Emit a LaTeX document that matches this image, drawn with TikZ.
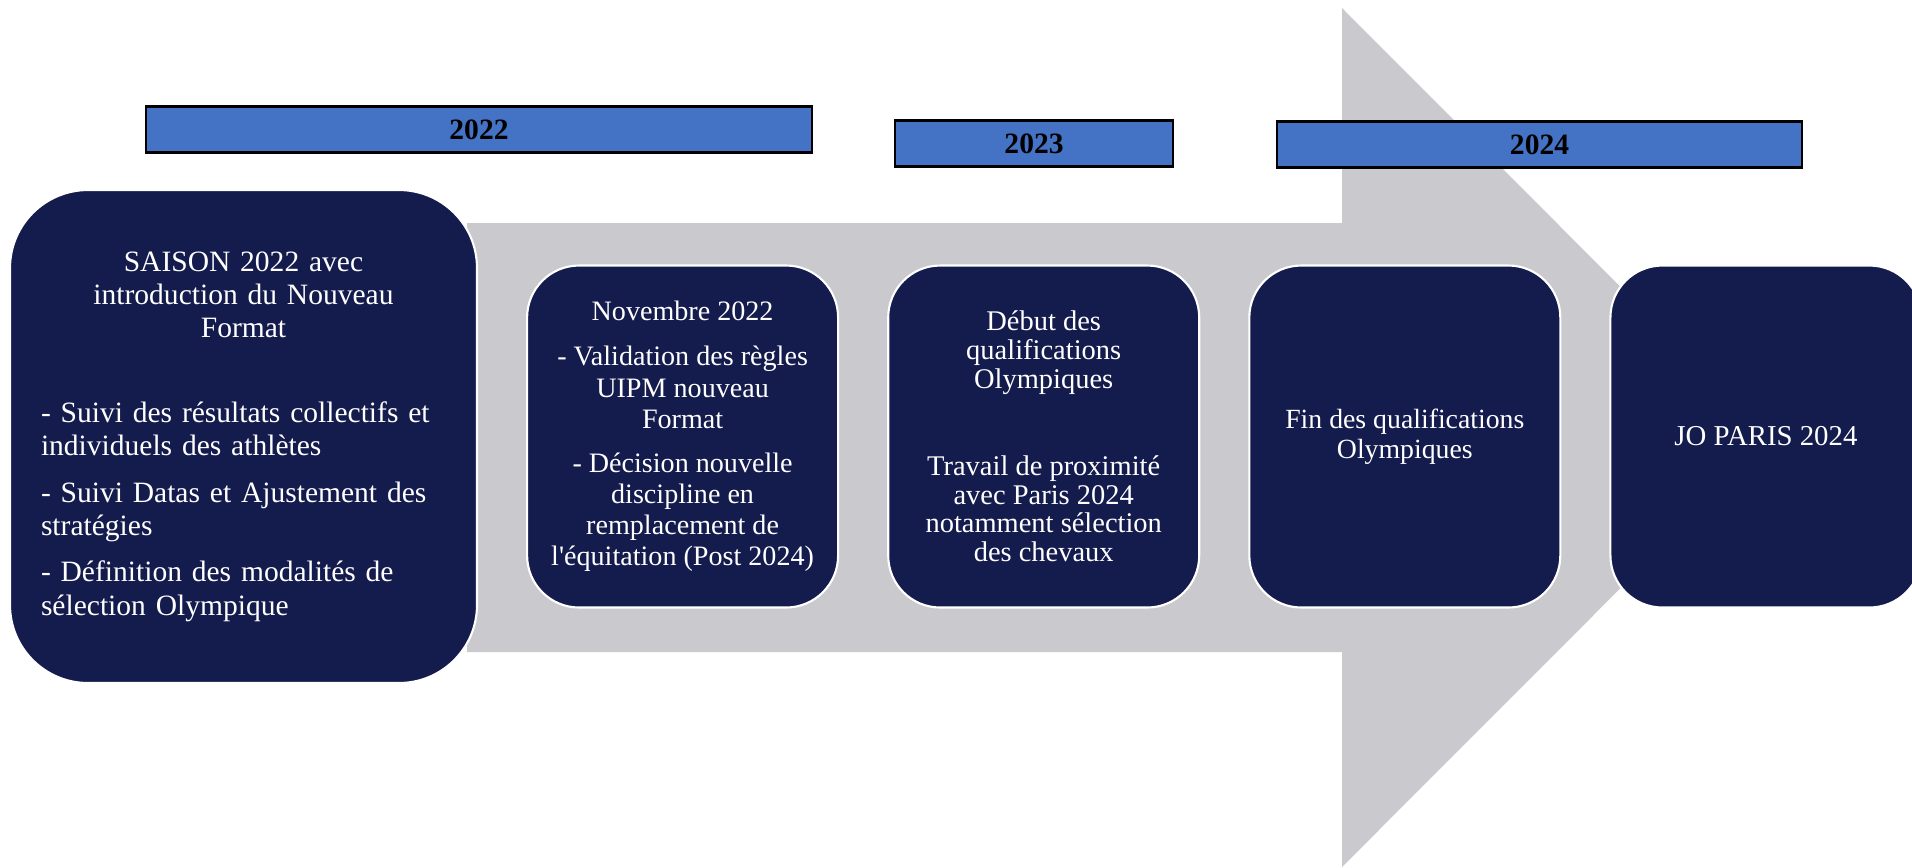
\documentclass[tikz,border=0pt]{standalone}
\usepackage{fontspec}
\setmainfont{Liberation Serif}
\usetikzlibrary{positioning}
\definecolor{navy}{RGB}{20,27,77}
\definecolor{yearblue}{RGB}{68,114,196}
\definecolor{arrowgray}{RGB}{201,201,206}
\setlength{\parindent}{0pt}

\begin{document}
\begin{tikzpicture}[
  x=0.1mm, y=-0.1mm,
  stage/.style={draw=white, line width=0.6pt, fill=navy, text=white,
    minimum width=31.1mm, minimum height=34.2mm, rounded corners=5.2mm,
    inner sep=0pt, align=center},
  year/.style={draw=black, line width=0.7pt, fill=yearblue, inner sep=0pt,
    minimum height=4.6mm, font=\fontsize{8.4}{9}\selectfont\bfseries}
]
\useasboundingbox (0,0) rectangle (1912,867);

% ── big grey arrow behind the stages ─────────────────────────────────────
\fill[arrowgray] (467,223) -- (1342,223) -- (1342,8) -- (1771,437.5)
  -- (1342,867) -- (1342,652) -- (467,652) -- cycle;

% ── year bars ────────────────────────────────────────────────────────────
\node[year, minimum width=66.6mm] (y2022) at (479,129.5) {2022};
\node[year, minimum width=27.8mm] (y2023) at (1034,143.5) {2023};
\node[year, minimum width=52.5mm] (y2024) at (1539.5,144.5) {2024};

% ── stages ───────────────────────────────────────────────────────────────
\node[stage, minimum width=46.7mm, minimum height=49.3mm, rounded corners=7.8mm,
  text width=40.5mm, align=left, font=\fontsize{8.4}{9.5}\selectfont]
  (saison) at (243.5,436.5)
  {{\centering SAISON 2022 avec\\ introduction du Nouveau\\ Format\par}
   \vspace{14.5pt}
   - Suivi des résultats collectifs et\\ individuels des athlètes\par
   \vspace{3.7pt}
   - Suivi Datas et Ajustement des\\ stratégies\par
   \vspace{3.7pt}
   - Définition des modalités de\\ sélection Olympique\par};
\node[stage, right=4.8mm of saison, font=\fontsize{8}{8.9}\selectfont] (nov)
  {Novembre 2022\\[4pt] - Validation des règles\\ UIPM nouveau\\ Format\\[3.5pt]
   - Décision nouvelle\\ discipline en\\ remplacement de\\
   l\textquotesingle équitation (Post 2024)};
\node[stage, right=4.8mm of nov, font=\fontsize{8.1}{8.2}\selectfont] (debut)
  {Début des\\ qualifications\\ Olympiques\\[16.5pt] Travail de proximité\\
   avec Paris 2024\\ notamment sélection\\ des chevaux};
\node[stage, right=4.8mm of debut, font=\fontsize{7.9}{8.5}\selectfont] (fin)
  {Fin des qualifications\\ Olympiques};
\node[stage, right=4.8mm of fin, font=\fontsize{8.2}{8.6}\selectfont] (jo)
  {JO PARIS 2024};

\end{tikzpicture}
\end{document}
